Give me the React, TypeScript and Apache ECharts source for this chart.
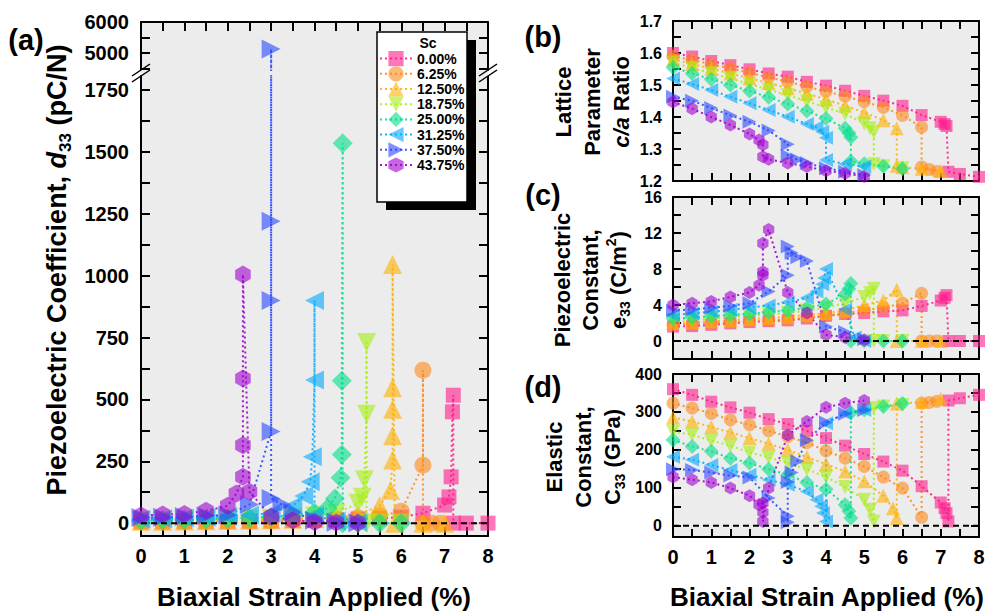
import React, { useEffect, useRef } from 'react';
import * as echarts from 'echarts';

const FONT = '"Liberation Sans", Arial, Helvetica, sans-serif';

const SC_NAMES = ['0.00%', '6.25%', '12.50%', '18.75%', '25.00%', '31.25%', '37.50%', '43.75%'];
const SC_COLORS = ['#ff1a8c', '#ff8a1a', '#ffb000', '#a6ee10', '#00e08a', '#00aaff', '#2a48ff', '#a000d0'];
const HEX = 'path://M0,-1L0.866,-0.5L0.866,0.5L0,1L-0.866,0.5L-0.866,-0.5Z';
const SC_SYMBOLS = ['rect', 'circle', 'triangle', 'triangle', 'diamond', 'triangle', 'triangle', HEX];
const SC_ROTATE = [0, 0, 0, 180, 0, 90, -90, 0];
const SIZE_A = [15, 17, 19, 19, 20, 19, 19, 18];
const SIZE_R = [12, 13, 14, 14, 15, 14, 14, 13];

// tick values and tick labels
const X_TICKS = [0, 0.5, 1, 1.5, 2, 2.5, 3, 3.5, 4, 4.5, 5, 5.5, 6, 6.5, 7, 7.5, 8];
const X_LABELS = [0, 1, 2, 3, 4, 5, 6, 7, 8];
const D33_UPPER_TICKS = [4500, 5000, 5500, 6000];
const D33_UPPER_LABELS = [5000, 6000];
const D33_TICKS = [0, 125, 250, 375, 500, 625, 750, 875, 1000, 1125, 1250, 1375, 1500, 1625, 1750];
const D33_LABELS = [0, 250, 500, 750, 1000, 1250, 1500, 1750];
const CA_TICKS = [1.2, 1.25, 1.3, 1.35, 1.4, 1.45, 1.5, 1.55, 1.6, 1.65, 1.7];
const CA_LABELS = [1.2, 1.3, 1.4, 1.5, 1.6, 1.7];
const E33_TICKS = [0, 2, 4, 6, 8, 10, 12, 14, 16];
const E33_LABELS = [0, 4, 8, 12, 16];
const C33_TICKS = [0, 50, 100, 150, 200, 250, 300, 350, 400];
const C33_LABELS = [0, 100, 200, 300, 400];

// (a) piezoelectric coefficient d33 (pC/N)
const D33_00 = [[0, 4.5], [0.5, 4.8], [1, 5.5], [1.5, 6.3], [2, 7], [2.5, 7.8], [3, 8.6], [3.5, 10.4], [4, 12.5], [4.5, 14], [5, 16.5], [5.5, 19.5], [6, 24], [6.5, 40], [7, 73], [7.1, 106], [7.15, 187], [7.18, 450], [7.2, 517], [7.2, 0], [7.5, 0], [8, 0]];
const D33_0625 = [[0, 5.6], [0.5, 6.1], [1, 6.8], [1.5, 7.5], [2, 8.3], [2.5, 9.2], [3, 10.2], [3.5, 11.9], [4, 14.2], [4.5, 17.5], [5, 22], [5.5, 29], [6, 48], [6.5, 234], [6.5, 618], [6.5, 0], [6.7, 0], [6.9, 0]];
const D33_1250 = [[0, 7.4], [0.5, 8], [1, 8.8], [1.5, 9.7], [2, 10.8], [2.5, 12], [3, 13.5], [3.5, 16], [4, 19], [4.5, 23.5], [5, 34], [5.5, 70], [5.75, 133], [5.8, 255], [5.8, 353], [5.8, 460], [5.8, 547], [5.8, 1045], [5.85, 0], [6.5, 0], [7, 0]];
const D33_1875 = [[0, 9.3], [0.5, 10], [1, 11.2], [1.5, 12.4], [2, 14.5], [2.5, 16.4], [3, 18.8], [3.5, 22.8], [4, 29], [4.5, 41], [5, 80], [5.1, 105], [5.15, 175], [5.2, 440], [5.2, 730], [5.2, 0], [5.5, 0], [6, 0]];
const D33_2500 = [[0, 11], [0.5, 12.4], [1, 14], [1.5, 16.3], [2, 18.2], [2.5, 21.5], [3, 25.4], [3.5, 32.5], [4, 42.7], [4.3, 60], [4.47, 100], [4.6, 183], [4.63, 277], [4.63, 575], [4.65, 1535], [4.65, 0], [5, 0], [5.5, 0], [6, 0]];
const D33_3125 = [[0, 16], [0.5, 17.5], [1, 20.3], [1.5, 23.5], [2, 27.6], [2.5, 32.6], [3, 39.8], [3.5, 70], [3.75, 110], [3.9, 167], [3.95, 268], [4, 578], [4, 900], [4, 30], [4.5, 8], [5, 3]];
const D33_3750 = [[0, 22.8], [0.5, 23.8], [1, 26.4], [1.5, 29.5], [2, 33], [2.5, 75], [3, 370], [3, 900], [3, 1220], [3, 5130], [3, 100], [3.25, 75], [3.5, 45], [4, 12], [4.5, 4], [5, 2]];
const D33_4375 = [[0, 31], [0.5, 35], [1, 37], [1.5, 50], [2, 70], [2.2, 120], [2.35, 187], [2.35, 315], [2.35, 585], [2.35, 1005], [2.5, 127], [3, 26], [3.5, 12], [4, 5], [4.5, 3], [5, 2]];

// (b) lattice parameter c/a ratio
const CA_00 = [[0, 1.6], [0.5, 1.589], [1, 1.575], [1.5, 1.562], [2, 1.549], [2.5, 1.536], [3, 1.526], [3.5, 1.51], [4, 1.498], [4.5, 1.482], [5, 1.466], [5.5, 1.451], [6, 1.435], [6.5, 1.406], [7, 1.385], [7.1, 1.378], [7.15, 1.372], [7.2, 1.229], [7.5, 1.222], [8, 1.213]];
const CA_0625 = [[0, 1.59], [0.5, 1.578], [1, 1.565], [1.5, 1.552], [2, 1.538], [2.5, 1.524], [3, 1.51], [3.5, 1.495], [4, 1.48], [4.5, 1.465], [5, 1.448], [5.5, 1.43], [6, 1.405], [6.5, 1.368], [6.5, 1.244], [6.7, 1.236], [6.9, 1.23]];
const CA_1250 = [[0, 1.58], [0.5, 1.566], [1, 1.551], [1.5, 1.536], [2, 1.521], [2.5, 1.506], [3, 1.49], [3.5, 1.473], [4, 1.455], [4.5, 1.435], [5, 1.414], [5.5, 1.39], [5.85, 1.365], [5.85, 1.248], [6, 1.243], [6.5, 1.238], [7, 1.232]];
const CA_1875 = [[0, 1.57], [0.5, 1.553], [1, 1.537], [1.5, 1.52], [2, 1.503], [2.5, 1.485], [3, 1.468], [3.5, 1.449], [4, 1.43], [4.5, 1.41], [5, 1.38], [5.15, 1.365], [5.25, 1.352], [5.25, 1.252], [5.5, 1.246], [6, 1.24]];
const CA_2500 = [[0, 1.555], [0.5, 1.536], [1, 1.518], [1.5, 1.5], [2, 1.481], [2.5, 1.462], [3, 1.441], [3.5, 1.419], [4, 1.395], [4.5, 1.365], [4.6, 1.35], [4.65, 1.337], [4.65, 1.262], [5, 1.254], [5.5, 1.246], [6, 1.238]];
const CA_3125 = [[0, 1.52], [0.5, 1.503], [1, 1.484], [1.5, 1.463], [2, 1.443], [2.5, 1.422], [3, 1.401], [3.5, 1.378], [3.75, 1.368], [3.9, 1.354], [4, 1.335], [4, 1.266], [4.5, 1.253], [5, 1.245]];
const CA_3750 = [[0, 1.463], [0.5, 1.451], [1, 1.428], [1.5, 1.405], [2, 1.385], [2.5, 1.358], [3, 1.315], [3, 1.278], [3.25, 1.267], [3.5, 1.256], [4, 1.24], [4.5, 1.229], [5, 1.219]];
const CA_4375 = [[0, 1.447], [0.5, 1.426], [1, 1.4], [1.5, 1.375], [2, 1.347], [2.25, 1.328], [2.35, 1.313], [2.35, 1.276], [2.5, 1.268], [3, 1.256], [3.5, 1.245], [4, 1.232], [4.5, 1.224], [5, 1.214]];

// (c) piezoelectric constant e33 (C/m2)
const E33_00 = [[0, 1.6], [0.5, 1.65], [1, 1.8], [1.5, 1.95], [2, 2.1], [2.5, 2.2], [3, 2.3], [3.5, 2.5], [4, 2.8], [4.5, 3.0], [5, 3.1], [5.5, 3.3], [6, 3.4], [6.5, 3.9], [7, 4.5], [7.1, 4.8], [7.15, 5.1], [7.2, 0], [7.5, 0], [8, 0]];
const E33_0625 = [[0, 1.8], [0.5, 1.9], [1, 2.0], [1.5, 2.1], [2, 2.2], [2.5, 2.3], [3, 2.4], [3.5, 2.6], [4, 2.8], [4.5, 3.1], [5, 3.4], [5.5, 3.7], [6, 4.2], [6.5, 5.3], [6.5, 0], [6.7, 0], [6.9, 0]];
const E33_1250 = [[0, 2.0], [0.5, 2.1], [1, 2.2], [1.5, 2.3], [2, 2.45], [2.5, 2.55], [3, 2.7], [3.5, 2.9], [4, 3.1], [4.5, 3.4], [5, 4.0], [5.5, 4.5], [5.85, 5.7], [5.85, 0], [6.5, 0], [7, 0]];
const E33_1875 = [[0, 2.3], [0.5, 2.4], [1, 2.5], [1.5, 2.65], [2, 2.8], [2.5, 2.95], [3, 3.1], [3.5, 3.4], [4, 3.7], [4.5, 4.2], [5, 4.9], [5.15, 5.3], [5.25, 5.8], [5.25, 0], [5.5, 0], [6, 0]];
const E33_2500 = [[0, 2.5], [0.5, 2.6], [1, 2.75], [1.5, 2.9], [2, 3.0], [2.5, 3.2], [3, 3.4], [3.5, 3.7], [4, 4.1], [4.5, 5.2], [4.6, 5.8], [4.65, 6.4], [4.65, 0], [5, 0], [5.5, 0], [6, 0]];
const E33_3125 = [[0, 2.9], [0.5, 3.05], [1, 3.25], [1.5, 3.45], [2, 3.7], [2.5, 3.95], [3, 4.3], [3.5, 4.8], [3.75, 5.5], [3.9, 6.3], [3.95, 7.0], [4, 8.0], [4.5, 3.5], [4.75, 0.4], [5, 0]];
const E33_3750 = [[0, 3.4], [0.5, 3.5], [1, 3.7], [1.5, 3.9], [2, 4.2], [2.5, 5.5], [3, 7.3], [3, 10.5], [3.1, 9.8], [3.25, 9.3], [3.5, 8.9], [4, 1.6], [4.5, 1.0], [5, 0.2]];
const E33_4375 = [[0, 4.0], [0.5, 4.2], [1, 4.4], [1.5, 4.9], [2, 5.4], [2.25, 6.2], [2.35, 7.3], [2.35, 7.7], [2.35, 10.85], [2.5, 12.4], [3, 5.4], [3.5, 3.1], [4, 0.7], [4.5, 0.4], [5, 0.1]];

// (d) elastic constant C33 (GPa)
const C33_00 = [[0, 360], [0.5, 345], [1, 327], [1.5, 312], [2, 298], [2.5, 281], [3, 268], [3.5, 250], [4, 231], [4.5, 211], [5, 189], [5.5, 169], [6, 145], [6.5, 104], [7, 61], [7.1, 46], [7.15, 33], [7.2, 11], [7.2, 330], [7.5, 336], [8, 345]];
const C33_0625 = [[0, 323], [0.5, 310], [1, 296], [1.5, 279], [2, 266], [2.5, 250], [3, 235], [3.5, 219], [4, 197], [4.5, 178], [5, 156], [5.5, 128], [6, 99], [6.5, 22], [6.5, 323], [6.7, 325], [6.9, 328]];
const C33_1250 = [[0, 285], [0.5, 275], [1, 260], [1.5, 246], [2, 231], [2.5, 216], [3, 200], [3.5, 181], [4, 162], [4.5, 143], [5, 117], [5.5, 79], [5.75, 46], [5.85, 20], [5.85, 322], [6.5, 326], [7, 335]];
const C33_1875 = [[0, 248], [0.5, 240], [1, 224], [1.5, 211], [2, 193], [2.5, 180], [3, 165], [3.5, 149], [4, 128], [4.5, 102], [5, 68], [5.15, 42], [5.25, 11], [5.25, 310], [5.5, 314], [6, 318]];
const C33_2500 = [[0, 226], [0.5, 209], [1, 196], [1.5, 178], [2, 165], [2.5, 149], [3, 134], [3.5, 114], [4, 96], [4.5, 55], [4.6, 38], [4.65, 20], [4.65, 298], [5, 305], [5.5, 314], [6, 322]];
const C33_3125 = [[0, 182], [0.5, 174], [1, 160], [1.5, 147], [2, 134], [2.5, 121], [3, 108], [3.5, 90], [3.75, 68], [3.87, 51], [3.92, 33], [4, 11], [4, 270], [4.5, 296], [5, 305]];
const C33_3750 = [[0, 149], [0.5, 147], [1, 140], [1.5, 132], [2, 127], [2.5, 73], [3, 25], [3, 9], [3, 115], [3.1, 140], [3.25, 170], [3.5, 225], [4, 272], [4.5, 295], [5, 305]];
const C33_4375 = [[0, 128], [0.5, 121], [1, 114], [1.5, 99], [2, 79], [2.25, 55], [2.35, 60], [2.35, 35], [2.35, 11], [2.5, 99], [3, 239], [3.5, 275], [4, 312], [4.5, 323], [5, 330]];

const ZERO_LINE = [[0, 0], [8, 0]];

const D33_SETS = [D33_00, D33_0625, D33_1250, D33_1875, D33_2500, D33_3125, D33_3750, D33_4375];
const CA_SETS = [CA_00, CA_0625, CA_1250, CA_1875, CA_2500, CA_3125, CA_3750, CA_4375];
const E33_SETS = [E33_00, E33_0625, E33_1250, E33_1875, E33_2500, E33_3125, E33_3750, E33_4375];
const C33_SETS = [C33_00, C33_0625, C33_1250, C33_1875, C33_2500, C33_3125, C33_3750, C33_4375];

const BG = '#ececec';
const plain = (v: number) => String(v);

function xAx(gridIndex: number, position: string, labels: boolean, len: number) {
  return {
    type: 'value', gridIndex, position, min: 0, max: 8,
    axisLine: { show: true, onZero: false, lineStyle: { color: '#000', width: 2 } },
    axisTick: { show: true, inside: true, length: len, customValues: X_TICKS, lineStyle: { color: '#000', width: 2 } },
    axisLabel: labels
      ? { show: true, customValues: X_LABELS, formatter: plain, fontSize: 20, fontWeight: 'bold', color: '#000', margin: 10, fontFamily: FONT }
      : { show: false },
    splitLine: { show: false },
  };
}

function yAx(gridIndex: number, position: string, min: number, max: number, ticks: number[], labels: number[] | null, fontSize: number, len: number, margin: number, fmt: (v: number) => string = plain) {
  return {
    type: 'value', gridIndex, position, min, max,
    axisLine: { show: true, onZero: false, lineStyle: { color: '#000', width: 2 } },
    axisTick: { show: true, inside: true, length: len, customValues: ticks, lineStyle: { color: '#000', width: 2 } },
    axisLabel: labels
      ? { show: true, customValues: labels, formatter: fmt, fontSize, fontWeight: 'bold', color: '#000', margin, fontFamily: FONT }
      : { show: false },
    splitLine: { show: false },
  };
}

function sc(i: number, data: number[][], xi: number, yi: number, sizes: number[]) {
  return {
    type: 'line', name: SC_NAMES[i], xAxisIndex: xi, yAxisIndex: yi, data,
    symbol: SC_SYMBOLS[i], symbolSize: sizes[i], symbolRotate: SC_ROTATE[i], symbolKeepAspect: true,
    itemStyle: { color: SC_COLORS[i], opacity: 0.6 },
    lineStyle: { color: SC_COLORS[i], width: 2, type: [2, 3], opacity: 0.9 },
    clip: true, z: 2, silent: true, emphasis: { disabled: true },
  };
}

function zero(xi: number, yi: number) {
  return {
    type: 'line', name: '', xAxisIndex: xi, yAxisIndex: yi, data: ZERO_LINE,
    symbol: 'none', lineStyle: { color: '#000', width: 2, type: [6, 4] }, z: 4, silent: true,
  };
}

function rotTitle(x: number, y: number, text: string, fontSize: number, lineHeight: number, rich: any) {
  return {
    type: 'text', x, y, rotation: Math.PI / 2, z: 10,
    style: { text, fontSize, fontWeight: 'bold', fontFamily: FONT, fill: '#000', align: 'center', verticalAlign: 'middle', lineHeight, rich },
  };
}

function label(x: number, y: number, text: string, fontSize: number) {
  return {
    type: 'text', x, y, z: 10,
    style: { text, fontSize, fontWeight: 'bold', fontFamily: FONT, fill: '#000', align: 'center', verticalAlign: 'middle' },
  };
}

function buildOption() {
  const series: any[] = [];
  series.push(sc(6, D33_3750, 0, 0, SIZE_A));
  D33_SETS.forEach((d, i) => series.push(sc(i, d, 1, 2, SIZE_A)));
  series.push(zero(1, 2));
  CA_SETS.forEach((d, i) => series.push(sc(i, d, 2, 4, SIZE_R)));
  E33_SETS.forEach((d, i) => series.push(sc(i, d, 4, 6, SIZE_R)));
  series.push(zero(4, 6));
  C33_SETS.forEach((d, i) => series.push(sc(i, d, 6, 8, SIZE_R)));
  series.push(zero(6, 8));

  const subR = (fs: number) => ({ fontSize: fs, fontWeight: 'bold', fontFamily: FONT, verticalAlign: 'bottom', lineHeight: fs });
  const supR = (fs: number) => ({ fontSize: fs, fontWeight: 'bold', fontFamily: FONT, verticalAlign: 'top', lineHeight: fs });

  return {
    animation: false,
    textStyle: { fontFamily: FONT },
    grid: [
      { left: 141, top: 22, width: 347, height: 48, show: true, backgroundColor: BG, borderWidth: 0 },
      { left: 141, top: 76, width: 347, height: 460, show: true, backgroundColor: BG, borderWidth: 0 },
      { left: 673, top: 21, width: 306, height: 160, show: true, backgroundColor: BG, borderWidth: 0 },
      { left: 673, top: 197, width: 306, height: 162, show: true, backgroundColor: BG, borderWidth: 0 },
      { left: 673, top: 374, width: 306, height: 163, show: true, backgroundColor: BG, borderWidth: 0 },
    ],
    xAxis: [
      xAx(0, 'top', false, 9),
      xAx(1, 'bottom', true, 9),
      xAx(2, 'bottom', false, 8),
      xAx(2, 'top', false, 8),
      xAx(3, 'bottom', false, 8),
      xAx(3, 'top', false, 8),
      xAx(4, 'bottom', true, 8),
      xAx(4, 'top', false, 8),
    ],
    yAxis: [
      yAx(0, 'left', 4450, 6000, D33_UPPER_TICKS, D33_UPPER_LABELS, 20, 9, 12),
      yAx(0, 'right', 4450, 6000, D33_UPPER_TICKS, null, 20, 9, 12),
      yAx(1, 'left', -52, 1807, D33_TICKS, D33_LABELS, 20, 9, 12),
      yAx(1, 'right', -52, 1807, D33_TICKS, null, 20, 9, 12),
      yAx(2, 'left', 1.2, 1.7, CA_TICKS, CA_LABELS, 16, 8, 11, (v: number) => v.toFixed(1)),
      yAx(2, 'right', 1.2, 1.7, CA_TICKS, null, 16, 8, 11),
      yAx(3, 'left', -2, 16, E33_TICKS, E33_LABELS, 16, 8, 11),
      yAx(3, 'right', -2, 16, E33_TICKS, null, 16, 8, 11),
      yAx(4, 'left', -30, 400, C33_TICKS, C33_LABELS, 16, 8, 11),
      yAx(4, 'right', -30, 400, C33_TICKS, null, 16, 8, 11),
    ],
    legend: {
      data: SC_NAMES, orient: 'vertical', left: 379, top: 51, itemWidth: 32, itemHeight: 19, itemGap: 0, padding: 0,
      textStyle: { fontSize: 14, fontWeight: 'bold', color: '#000', fontFamily: FONT }, selectedMode: false, z: 12,
    },
    series,
    graphic: [
      { type: 'rect', shape: { x: 141, y: 70, width: 347, height: 6 }, style: { fill: BG }, z: 1, silent: true },
      { type: 'line', shape: { x1: 132, y1: 76, x2: 150, y2: 64 }, style: { stroke: '#000', lineWidth: 1.5 }, z: 6 },
      { type: 'line', shape: { x1: 132, y1: 82, x2: 150, y2: 70 }, style: { stroke: '#000', lineWidth: 1.5 }, z: 6 },
      { type: 'line', shape: { x1: 479, y1: 76, x2: 497, y2: 64 }, style: { stroke: '#000', lineWidth: 1.5 }, z: 6 },
      { type: 'line', shape: { x1: 479, y1: 82, x2: 497, y2: 70 }, style: { stroke: '#000', lineWidth: 1.5 }, z: 6 },
      { type: 'rect', shape: { x: 386, y: 40, width: 90, height: 170 }, style: { fill: '#000' }, z: 8, silent: true },
      { type: 'rect', shape: { x: 377, y: 32, width: 90, height: 170 }, style: { fill: '#fff', stroke: '#000', lineWidth: 1.5 }, z: 8, silent: true },
      label(428, 43, 'Sc', 14),
      label(314, 597, 'Biaxial Strain Applied (%)', 26),
      label(827, 597, 'Biaxial Strain Applied (%)', 26),
      label(26, 40, '(a)', 29),
      label(543, 37, '(b)', 29),
      label(543, 195, '(c)', 29),
      label(543, 387, '(d)', 29),
      rotTitle(57, 270, 'Piezoelectric Coefficient, {it|d}{sub|33} (pC/N)', 27, 34, {
        it: { fontSize: 27, fontWeight: 'bold', fontStyle: 'italic', fontFamily: FONT, lineHeight: 34 },
        sub: subR(17),
      }),
      rotTitle(592, 102, 'Lattice\nParameter\n{it|c/a} Ratio', 22, 29, {
        it: { fontSize: 22, fontWeight: 'bold', fontStyle: 'italic', fontFamily: FONT, lineHeight: 29 },
      }),
      rotTitle(590, 280, 'Piezoelectric\nConstant,\ne{sub|33} (C/m{sup|2})', 22, 28, { sub: subR(14), sup: supR(14) }),
      rotTitle(583, 457, 'Elastic\nConstant,\nC{sub|33} (GPa)', 22, 29, { sub: subR(14) }),
    ],
  };
}

export default function App() {
  const ref = useRef<HTMLDivElement>(null);
  useEffect(() => {
    document.body.style.margin = '0';
    const chart = echarts.init(ref.current as HTMLDivElement, null, { renderer: 'svg' });
    chart.setOption(buildOption() as any);
    return () => chart.dispose();
  }, []);
  return <div ref={ref} style={{ width: 992, height: 612, background: '#fff' }} />;
}
